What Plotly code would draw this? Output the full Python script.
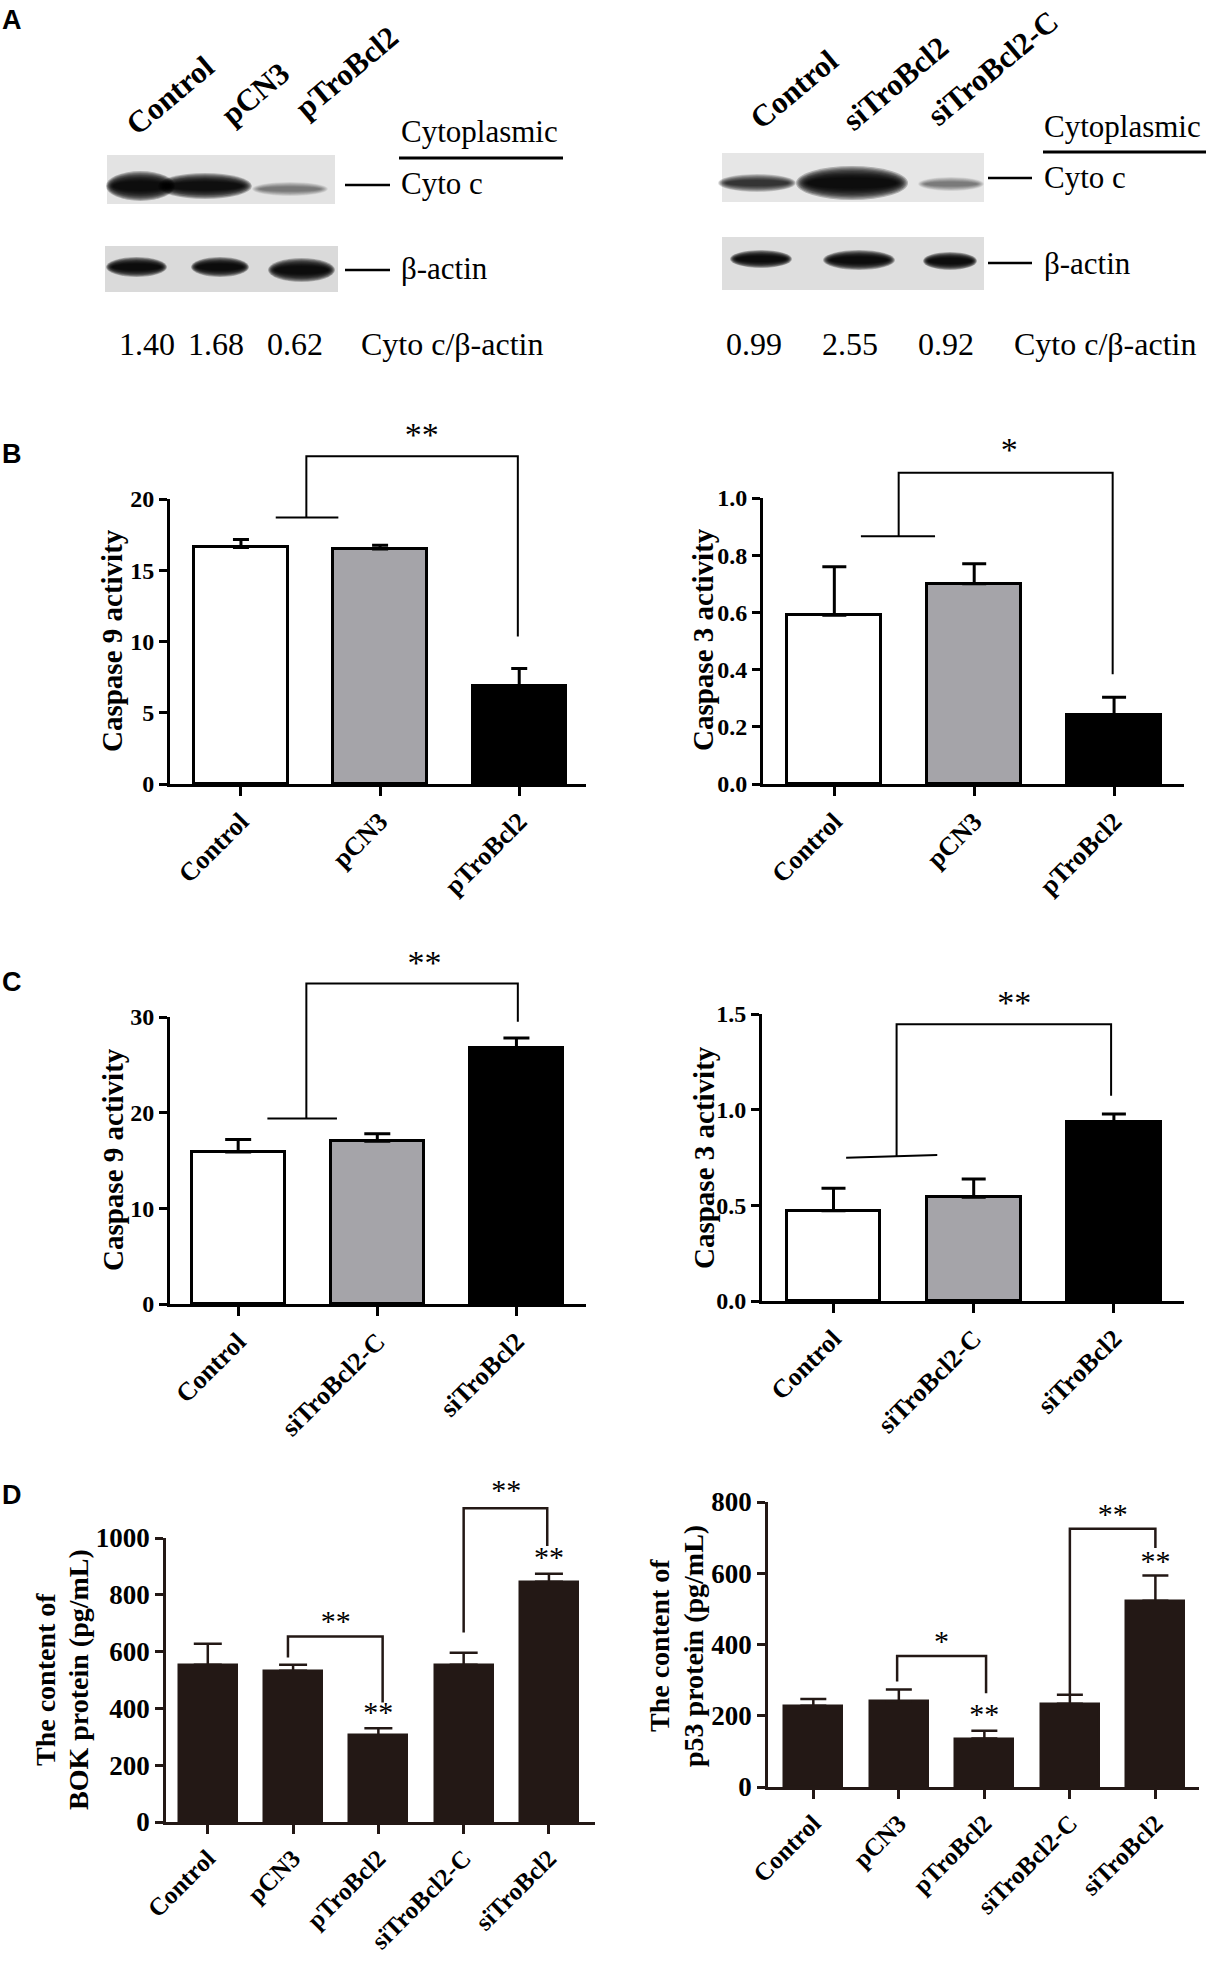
import plotly.graph_objects as go

W, H = 1216, 1962

# ---- data ----
cats_b = ["Control", "pCN3", "pTroBcl2"]
cats_c = ["Control", "siTroBcl2-C", "siTroBcl2"]
cats_d = ["Control", "pCN3", "pTroBcl2", "siTroBcl2-C", "siTroBcl2"]

casp9_b = [16.6, 16.5, 6.85]
casp9_b_err = [0.55, 0.25, 1.25]
casp3_b = [0.59, 0.70, 0.24]
casp3_b_err = [0.17, 0.07, 0.063]

casp9_c = [15.9, 17.0, 26.8]
casp9_c_err = [1.3, 0.8, 1.0]
casp3_c = [0.472, 0.542, 0.937]
casp3_c_err = [0.117, 0.096, 0.04]

bok = [554, 533, 305, 554, 846]
bok_err = [74, 21, 25, 42, 28]
p53 = [228, 241, 136, 234, 523]
p53_err = [19, 33, 22, 25, 71]

# significance brackets (data units) and stars
br_b9 = dict(x=[0.25, 0.70, None, 0.47, 0.47, 1.99, 1.99], y=[18.7, 18.7, None, 18.7, 23.0, 23.0, 10.35])
st_b9 = dict(x=[1.3], y=[24.3], t=["**"])
br_b3 = dict(x=[0.19, 0.72, None, 0.46, 0.46, 1.99, 1.99], y=[0.866, 0.866, None, 0.866, 1.088, 1.088, 0.384])
st_b3 = dict(x=[1.25], y=[1.16], t=["*"])
br_c9 = dict(x=[0.21, 0.71, None, 0.49, 0.49, 2.01, 2.01], y=[19.4, 19.4, None, 19.4, 33.5, 33.5, 29.5])
st_c9 = dict(x=[1.34], y=[35.4], t=["**"])
br_c3 = dict(x=[0.09, 0.74, None, 0.45, 0.45, 1.98, 1.98], y=[0.749, 0.763, None, 0.756, 1.446, 1.446, 1.073])
st_c3 = dict(x=[1.29], y=[1.547], t=["**"])
br_bok = dict(x=[0.94, 0.94, 2.05, 2.05, None, 3.0, 3.0, 3.98, 3.98], y=[579, 653, 653, 421, None, 667, 1105, 1105, 972])
st_bok = dict(x=[1.5, 2, 3.5, 4], y=[700, 380, 1161, 926], t=["**", "**", "**", "**"])
br_p53 = dict(x=[0.98, 0.98, 2.02, 2.02, None, 3.0, 3.0, 4.0, 4.0], y=[296, 368, 368, 263, None, 261, 725, 725, 671])
st_p53 = dict(x=[1.5, 2, 3.5, 4], y=[403, 198, 758, 627], t=["*", "**", "**", "**"])

# western blot (panel A)
lanes_left = ["Control", "pCN3", "pTroBcl2"]
lanes_right = ["Control", "siTroBcl2", "siTroBcl2-C"]
ratio_left = ["1.40", "1.68", "0.62"]
ratio_right = ["0.99", "2.55", "0.92"]
cytc_left = [1.0, 0.95, 0.25]
cytc_right = [0.55, 1.0, 0.25]
actin_left = [1.0, 1.0, 1.0]
actin_right = [1.0, 1.0, 1.0]

SERIF = "Liberation Serif"
SANS = "Liberation Sans"
OPEN = ["#ffffff", "#a5a4a9", "#000000"]
DARK = "#231815"


def fx(px):
  return px / W


def fy(py):
  return 1 - py / H


fig = go.Figure()
shapes = []
annos = []


def add_panel(n, cats, vals, errs, fills, edge, lw, x_px, y0_px, top_px, top_val, dtick, ext_val,
              xr, bar_w, cap_w, fmt, tick_size, lab_size, br, st, star_size, br_w):
  ppu = (y0_px - top_px) / top_val
  ext_px = y0_px - ext_val * ppu
  xd = [fx(x_px[0]), fx(x_px[1])]
  m = n + 6
  fig.add_trace(go.Bar(
    x=list(range(len(cats))), y=vals, width=bar_w,
    marker=dict(color=fills, line=dict(color=edge, width=lw)),
    error_y=dict(type="data", array=errs, arrayminus=[0] * len(errs), symmetric=False,
                 color=edge, thickness=lw, width=cap_w),
    xaxis=f"x{n}", yaxis=f"y{n}", showlegend=False, hoverinfo="skip",
  ))
  fig.add_trace(go.Scatter(
    x=br["x"], y=br["y"], mode="lines", line=dict(color=edge, width=br_w),
    xaxis=f"x{m}", yaxis=f"y{m}", showlegend=False, hoverinfo="skip",
  ))
  fig.add_trace(go.Scatter(
    x=st["x"], y=st["y"], text=st["t"], mode="text", cliponaxis=False,
    textfont=dict(family=SERIF, size=star_size, color="black"),
    xaxis=f"x{m}", yaxis=f"y{m}", showlegend=False, hoverinfo="skip",
  ))
  tf = dict(family=SERIF, size=tick_size, color="black", weight="bold")
  fig.layout[f"xaxis{n}"] = dict(
    domain=xd, range=list(xr), anchor=f"y{n}", showline=True, linecolor=edge, linewidth=lw,
    ticks="outside", ticklen=9, tickwidth=lw, tickcolor=edge,
    tickvals=list(range(len(cats))), ticktext=cats, tickangle=-45, automargin=False,
    tickfont=dict(family=SERIF, size=lab_size, color="black", weight="bold"),
    showgrid=False, zeroline=False, fixedrange=True,
  )
  fig.layout[f"yaxis{n}"] = dict(
    domain=[fy(y0_px), fy(top_px)], range=[0, top_val], anchor=f"x{n}",
    showline=True, linecolor=edge, linewidth=lw, ticks="outside", ticklen=8,
    tickwidth=lw, tickcolor=edge, dtick=dtick, tick0=0, tickformat=fmt, tickfont=tf,
    showgrid=False, zeroline=False, fixedrange=True, automargin=False,
  )
  fig.layout[f"xaxis{m}"] = dict(domain=xd, range=list(xr), anchor=f"y{m}", visible=False,
                                 fixedrange=True, automargin=False)
  fig.layout[f"yaxis{m}"] = dict(domain=[fy(y0_px), fy(ext_px)], range=[0, ext_val], anchor=f"x{m}",
                                 visible=False, fixedrange=True, automargin=False)


# ---- panel B ----
add_panel(1, cats_b, casp9_b, casp9_b_err, OPEN, "black", 3, (170, 586), 784, 499, 20, 5, 26,
          (-0.51, 2.48), 0.67, 8, "d", 24, 26, br_b9, st_b9, 34, 2)
add_panel(2, cats_b, casp3_b, casp3_b_err, OPEN, "black", 3, (763, 1184), 784, 498, 1.0, 0.2, 1.25,
          (-0.51, 2.5), 0.67, 12, ".1f", 24, 26, br_b3, st_b3, 34, 2)
# ---- panel C ----
add_panel(3, cats_c, casp9_c, casp9_c_err, OPEN, "black", 3, (170, 586), 1304, 1017, 30, 10, 37.5,
          (-0.49, 2.5), 0.67, 13, "d", 24, 26, br_c9, st_c9, 34, 2)
add_panel(4, cats_c, casp3_c, casp3_c_err, OPEN, "black", 3, (762, 1184), 1301, 1014, 1.5, 0.5, 1.66,
          (-0.51, 2.5), 0.67, 12, ".1f", 24, 26, br_c3, st_c3, 34, 2)
# ---- panel D ----
add_panel(5, cats_d, bok, bok_err, [DARK] * 5, DARK, 2.5, (166, 595), 1822, 1538, 1000, 200, 1210,
          (-0.49, 4.54), 0.68, 14, "d", 27, 25, br_bok, st_bok, 30, 2.5)
add_panel(6, cats_d, p53, p53_err, [DARK] * 5, DARK, 2.5, (768, 1199), 1787, 1502, 800, 200, 830,
          (-0.53, 4.51), 0.68, 13, "d", 27, 25, br_p53, st_p53, 30, 2.5)


def text(x, y, s, size, bold=False, angle=0, family=SERIF, xanchor="center"):
  annos.append(dict(
    x=fx(x), y=fy(y), xref="paper", yref="paper", text=s, showarrow=False, textangle=angle,
    xanchor=xanchor, yanchor="middle",
    font=dict(family=family, size=size, color="black", weight="bold" if bold else "normal"),
  ))


# y axis titles
text(112, 641, "Caspase 9 activity", 29, True, -90)
text(703, 640, "Caspase 3 activity", 29, True, -90)
text(113, 1160, "Caspase 9 activity", 29, True, -90)
text(704, 1158, "Caspase 3 activity", 29, True, -90)
text(45, 1680, "The content of", 28, True, -90)
text(78, 1680, "BOK protein (pg/mL)", 28, True, -90)
text(659, 1646, "The content of", 28, True, -90)
text(693, 1646, "p53 protein (pg/mL)", 28, True, -90)

# panel letters
for letter, yy in zip("ABCD", [20, 454, 982, 1495]):
  text(12, yy, letter, 27, True, 0, SANS)


# ---- panel A: blots drawn with shapes ----
def rect(x0, y0, x1, y1, color):
  shapes.append(dict(type="rect", xref="paper", yref="paper", x0=fx(x0), x1=fx(x1),
                     y0=fy(y1), y1=fy(y0), fillcolor=color, line=dict(width=0), layer="above"))


def band(x0, x1, yc, hh, strength):
  cx = (x0 + x1) / 2
  hw = (x1 - x0) / 2
  for i in range(10):
    k = 1 - i * 0.075
    shapes.append(dict(type="circle", xref="paper", yref="paper",
                       x0=fx(cx - hw * (0.7 + 0.3 * k)), x1=fx(cx + hw * (0.7 + 0.3 * k)),
                       y0=fy(yc + hh * k), y1=fy(yc - hh * k),
                       fillcolor="black", opacity=0.24 * strength, line=dict(width=0),
                       layer="above"))


def line(x0, y0, x1, y1, w=2.5):
  shapes.append(dict(type="line", xref="paper", yref="paper", x0=fx(x0), x1=fx(x1),
                     y0=fy(y0), y1=fy(y1), line=dict(color="black", width=w), layer="above"))


# left blot
rect(107, 155, 335, 204, "#e3e3e3")
for (a, b, yc, hh), s in zip([(106, 175, 186, 15), (158, 252, 186, 13), (252, 328, 189, 7)], cytc_left):
  band(a, b, yc, hh, s)
rect(105, 246, 338, 292, "#dadada")
for (a, b, yc, hh), s in zip([(106, 167, 267, 10), (191, 249, 267, 10), (268, 335, 270, 12)], actin_left):
  band(a, b, yc, hh, s)
line(345, 185, 390, 185)
line(345, 270, 390, 270)
line(399, 158, 563, 158, 3)
text(399, 131, "Cytoplasmic", 31, xanchor="left")
text(399, 184, "Cyto c", 31, xanchor="left")
text(399, 268, "β-actin", 31, xanchor="left")
for lab, (cx, cy) in zip(lanes_left, [(170, 96), (255, 93), (346, 72)]):
  text(cx, cy, lab, 31, True, -40)
for r, cx in zip(ratio_left, [147, 216, 295]):
  text(cx, 344, r, 32)
text(359, 344, "Cyto c/β-actin", 32, xanchor="left")

# right blot
rect(722, 153, 984, 202, "#e6e6e6")
for (a, b, yc, hh), s in zip([(718, 796, 183, 9), (796, 908, 183, 17), (918, 984, 184, 7)], cytc_right):
  band(a, b, yc, hh, s)
rect(722, 237, 984, 290, "#dedede")
for (a, b, yc, hh), s in zip([(730, 792, 259, 9), (823, 895, 260, 10), (923, 977, 261, 9)], actin_right):
  band(a, b, yc, hh, s)
line(988, 178, 1032, 178)
line(988, 263, 1032, 263)
line(1043, 152, 1206, 152, 3)
text(1042, 126, "Cytoplasmic", 31, xanchor="left")
text(1042, 178, "Cyto c", 31, xanchor="left")
text(1042, 263, "β-actin", 31, xanchor="left")
for lab, (cx, cy) in zip(lanes_right, [(794, 90), (895, 83), (992, 68)]):
  text(cx, cy, lab, 31, True, -40)
for r, cx in zip(ratio_right, [754, 850, 946]):
  text(cx, 344, r, 32)
text(1012, 344, "Cyto c/β-actin", 32, xanchor="left")

fig.update_layout(
  width=W, height=H, margin=dict(l=0, r=0, t=0, b=0, pad=0, autoexpand=False),
  paper_bgcolor="white", plot_bgcolor="rgba(0,0,0,0)",
  shapes=shapes, annotations=annos, showlegend=False, bargap=0,
)

# drop the default page margin so the figure sits at the window's top-left corner
fig.write_html("out.html", config={"displayModeBar": False},
               post_script="document.body.style.margin='0';")
